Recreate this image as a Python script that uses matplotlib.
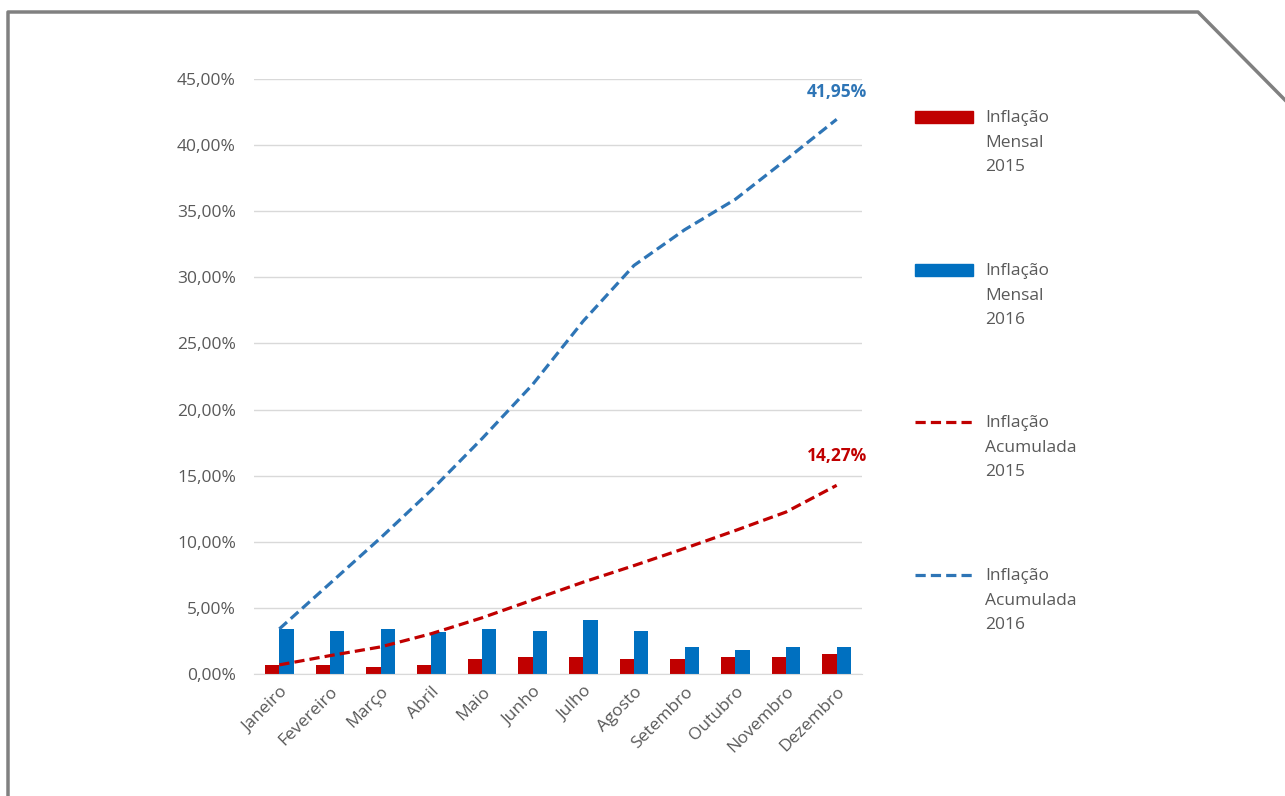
import matplotlib.pyplot as plt
import numpy as np
from matplotlib.lines import Line2D
from matplotlib.patches import Rectangle
from matplotlib.ticker import FuncFormatter

plt.rcParams['font.family'] = ['Open Sans', 'DejaVu Sans']

meses = ['Janeiro', 'Fevereiro', 'Março', 'Abril', 'Maio', 'Junho',
         'Julho', 'Agosto', 'Setembro', 'Outubro', 'Novembro', 'Dezembro']
mensal_2015 = [0.69, 0.69, 0.56, 0.69, 1.13, 1.26, 1.26, 1.13, 1.13, 1.26, 1.26, 1.54]
mensal_2016 = [3.41, 3.28, 3.41, 3.15, 3.41, 3.28, 4.08, 3.28, 2.05, 1.79, 2.05, 2.05]
acum_2015 = [0.69, 1.39, 2.05, 3.05, 4.25, 5.60, 6.95, 8.20, 9.50, 10.85, 12.25, 14.27]
acum_2016 = [3.41, 6.85, 10.30, 13.90, 17.80, 21.90, 26.70, 30.90, 33.60, 35.90, 38.90, 41.95]

VERMELHO = '#C00000'
AZUL = '#0070C0'
AZUL_LINHA = '#2E75B6'
CINZA = '#595959'
W, H = 1285, 796

fig = plt.figure(figsize=(W / 100, H / 100), dpi=100)
ax = fig.add_axes([254 / W, 1 - 674 / H, (862 - 254) / W, (674 - 79) / H])

x = np.arange(len(meses))
bw = 0.28
ax.bar(x - bw / 2, mensal_2015, bw, color=VERMELHO, zorder=2)
ax.bar(x + bw / 2, mensal_2016, bw, color=AZUL, zorder=2)
ax.plot(x, acum_2015, color=VERMELHO, lw=2.3, dashes=(3.2, 1.6), zorder=3)
ax.plot(x, acum_2016, color=AZUL_LINHA, lw=2.3, dashes=(3.2, 1.6), zorder=3)

ax.annotate('41,95%', (x[-1], acum_2016[-1]), xytext=(0, 20), textcoords='offset points',
            ha='center', va='center', color=AZUL_LINHA, fontsize=12.5, fontweight='bold')
ax.annotate('14,27%', (x[-1], acum_2015[-1]), xytext=(0, 21), textcoords='offset points',
            ha='center', va='center', color=VERMELHO, fontsize=12.5, fontweight='bold')

ax.set_xlim(-0.5, len(meses) - 0.5)
ax.set_ylim(0, 45)
ax.set_yticks(np.arange(0, 46, 5))
ax.yaxis.set_major_formatter(FuncFormatter(lambda v, p: f'{v:.2f}'.replace('.', ',') + '%'))
ax.set_xticks(x)
ax.set_xticklabels(meses, rotation=45, ha='right', rotation_mode='anchor')
ax.tick_params(length=0, colors=CINZA, labelsize=12.5)
ax.tick_params(axis='y', pad=13)
ax.tick_params(axis='x', pad=7)
ax.grid(axis='y', color='#D9D9D9', lw=1, zorder=0)
for s in ['top', 'right', 'left']:
    ax.spines[s].set_visible(False)
ax.spines['bottom'].set_color('#D9D9D9')

# legenda manual
def px(xp, yp):
    return xp / W, 1 - yp / H

entradas = [('patch', VERMELHO, 'Inflação\nMensal\n2015', 117),
            ('patch', AZUL, 'Inflação\nMensal\n2016', 270),
            ('line', VERMELHO, 'Inflação\nAcumulada\n2015', 422),
            ('line', AZUL_LINHA, 'Inflação\nAcumulada\n2016', 575)]
for tipo, cor, texto, yp in entradas:
    if tipo == 'patch':
        x0, y0 = px(915, yp + 6)
        fig.add_artist(Rectangle((x0, y0), 58 / W, 12 / H, transform=fig.transFigure,
                                 color=cor))
    else:
        (xa, ya), (xb, yb) = px(915, yp), px(973, yp)
        fig.add_artist(Line2D([xa, xb], [ya, yb], transform=fig.transFigure,
                              color=cor, lw=2.3, dashes=(3.2, 1.6)))
    tx, ty = px(985, yp - 7)
    fig.text(tx, ty, texto, color=CINZA, fontsize=12.5, va='top', ha='left',
             linespacing=1.72)

# moldura
bx = [8, 8, 1198, 1285]
by = [796, 12, 12, 100]
fig.add_artist(Line2D([v / W for v in bx], [1 - v / H for v in by],
                      transform=fig.transFigure, color='#808080', lw=2.5))

fig.savefig('out.png', dpi=100)
